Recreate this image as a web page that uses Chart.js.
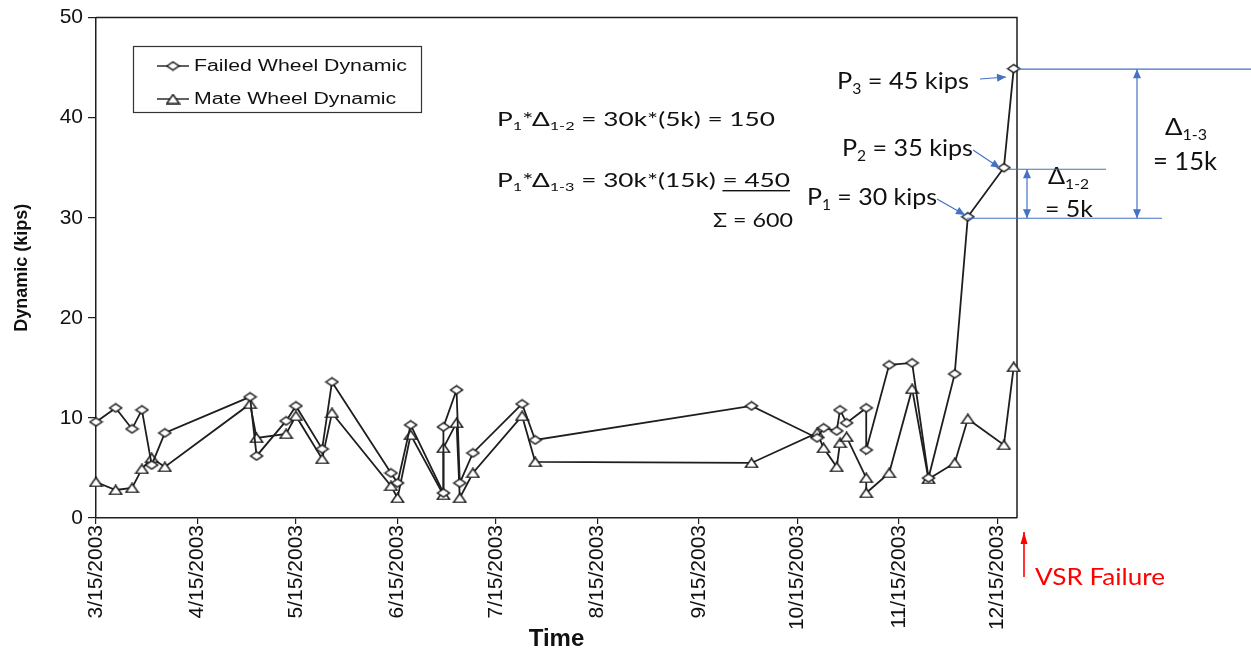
<!DOCTYPE html>
<html>
<head>
<meta charset="utf-8">
<script src="https://cdn.jsdelivr.net/npm/chart.js@4.4.1/dist/chart.umd.min.js"></script>
<style>
    html, body { margin: 0; padding: 0; background: #fff; }
    #wrap { width: 1251px; height: 655px; position: relative; }
</style>
</head>
<body>
<div id="wrap"><canvas id="dynamicChart"></canvas></div>
<script>
// Axis ticks (dates)
const tickLabels = ['3/15/2003', '4/15/2003', '5/15/2003', '6/15/2003', '7/15/2003',
    '8/15/2003', '9/15/2003', '10/15/2003', '11/15/2003', '12/15/2003'];
const axisStart = '3/15/2003';
const axisEnd = '12/21/2003';

const dates = ['3/15/2003', '3/21/2003', '3/26/2003', '3/29/2003', '4/1/2003', '4/5/2003',
    '5/1/2003', '5/3/2003', '5/12/2003', '5/15/2003', '5/23/2003', '5/26/2003',
    '6/13/2003', '6/15/2003', '6/19/2003', '6/29/2003', '6/29/2003', '7/3/2003',
    '7/4/2003', '7/8/2003', '7/23/2003', '7/27/2003', '10/1/2003', '10/21/2003',
    '10/23/2003', '10/27/2003', '10/28/2003', '10/30/2003', '11/5/2003', '11/5/2003',
    '11/12/2003', '11/19/2003', '11/24/2003', '12/2/2003', '12/6/2003', '12/17/2003',
    '12/20/2003'];

const failedWheel = [9.6, 11.0, 8.9, 10.8, 5.3, 8.5,
    12.1, 6.2, 9.7, 11.2, 6.9, 13.6,
    4.5, 3.5, 9.3, 2.5, 9.1, 12.8,
    3.5, 6.5, 11.4, 7.8, 11.2, 8.0,
    9.0, 8.7, 10.8, 9.5, 11.0, 6.8,
    15.3, 15.5, 4.0, 14.4, 30.1, 35.0,
    44.9];

const mateWheel = [3.6, 2.8, 3.0, 4.9, 6.0, 5.1,
    11.4, 8.0, 8.4, 10.2, 5.9, 10.5,
    3.2, 2.0, 8.3, 2.3, 7.0, 9.5,
    2.0, 4.5, 10.2, 5.6, 5.5, 8.5,
    7.0, 5.1, 7.5, 8.1, 4.0, 2.5,
    4.5, 12.9, 3.9, 5.5, 9.9, 7.3,
    15.1];

// Annotated load levels P1, P2, P3 (kips)
const pLevels = [30, 35, 45];

function dayOf(s) {
    const [m, d, y] = s.split('/').map(Number);
    const [m0, d0, y0] = axisStart.split('/').map(Number);
    return Math.round((Date.UTC(y, m - 1, d) - Date.UTC(y0, m0 - 1, d0)) / 86400000);
}
const tickDays = tickLabels.map(dayOf);

const LINE = '#1e1e1e';
const BLUE = '#4472C4';
const RED = '#ff0000';
const TXT = '#111';
Chart.defaults.font.family = "'Liberation Sans', Arial, sans-serif";
Chart.defaults.color = TXT;

// small open markers, a bit wider than tall like the source figure
function makeMarker(kind) {
    const c = document.createElement('canvas');
    c.width = 15; c.height = 11;
    const g = c.getContext('2d');
    g.beginPath();
    if (kind === 'diamond') {
        g.moveTo(1.5, 5.5); g.lineTo(7.5, 1.5); g.lineTo(13.5, 5.5); g.lineTo(7.5, 9.5);
    } else {
        g.moveTo(7.5, 1); g.lineTo(13.8, 10); g.lineTo(1.2, 10);
    }
    g.closePath();
    g.fillStyle = '#fff';
    g.fill();
    g.strokeStyle = '#1a1a1a';
    g.lineWidth = 1.5;
    g.stroke();
    return c;
}
const diamond = makeMarker('diamond');
const triangle = makeMarker('triangle');

// text with subscripts / underline, optionally squeezed into a given width
function richText(ctx, parts, x, y, size, width) {
    const sub = size * 0.62;
    const pieces = parts.map(p => typeof p === 'string' ? { t: p } : p);
    let total = 0;
    pieces.forEach(p => {
        ctx.font = (p.sub ? sub : size) + 'px Lato';
        p.text = p.sub || p.u || p.t;
        p.w = ctx.measureText(p.text).width;
        total += p.w;
    });
    const sx = width ? width / total : 1;
    ctx.save();
    ctx.translate(x, y);
    ctx.scale(sx, 1);
    ctx.textBaseline = 'alphabetic';
    ctx.textAlign = 'left';
    let cx = 0;
    pieces.forEach(p => {
        ctx.font = (p.sub ? sub : size) + 'px Lato';
        ctx.fillText(p.text, cx, p.sub ? size * 0.2 : 0);
        if (p.u) ctx.fillRect(cx, 3, p.w, 1.4);
        cx += p.w;
    });
    ctx.restore();
}

function arrowHead(ctx, x, y, ang, len, half) {
    const c = Math.cos(ang), s = Math.sin(ang);
    ctx.beginPath();
    ctx.moveTo(x, y);
    ctx.lineTo(x - len * c + half * s, y - len * s - half * c);
    ctx.lineTo(x - len * c - half * s, y - len * s + half * c);
    ctx.closePath();
    ctx.fill();
}

function arrow(ctx, x1, y1, x2, y2, color, both, len, half, lw) {
    ctx.strokeStyle = color;
    ctx.fillStyle = color;
    ctx.lineWidth = lw || 1.2;
    ctx.beginPath();
    ctx.moveTo(x1, y1);
    ctx.lineTo(x2, y2);
    ctx.stroke();
    const ang = Math.atan2(y2 - y1, x2 - x1);
    arrowHead(ctx, x2, y2, ang, len || 9, half || 4);
    if (both) arrowHead(ctx, x1, y1, ang + Math.PI, len || 9, half || 4);
}

// top + right edges of the plot frame
const frameBox = {
    id: 'frameBox',
    beforeDatasetsDraw(chart) {
        const { ctx, chartArea: a } = chart;
        ctx.save();
        ctx.strokeStyle = LINE;
        ctx.lineWidth = 1.5;
        ctx.beginPath();
        ctx.moveTo(a.left, a.top);
        ctx.lineTo(a.right, a.top);
        ctx.lineTo(a.right, a.bottom);
        ctx.stroke();
        ctx.restore();
    }
};

// boxed legend inside the plot, upper left
const boxLegend = {
    id: 'boxLegend',
    afterDraw(chart) {
        const { ctx } = chart;
        ctx.save();
        ctx.strokeStyle = '#333';
        ctx.lineWidth = 1.2;
        ctx.strokeRect(133.5, 46.5, 288, 66);
        chart.data.datasets.forEach((ds, i) => {
            const y = 66 + i * 33;
            ctx.strokeStyle = ds.borderColor;
            ctx.lineWidth = 1.4;
            ctx.beginPath();
            ctx.moveTo(157, y);
            ctx.lineTo(189, y);
            ctx.stroke();
            const m = ds.pointStyle;
            ctx.drawImage(m, 173 - m.width / 2, y - m.height / 2);
            ctx.save();
            ctx.translate(194, y);
            ctx.scale(1.33, 1);
            ctx.font = "16px 'Liberation Sans', Arial, sans-serif";
            ctx.fillStyle = TXT;
            ctx.textBaseline = 'middle';
            ctx.fillText(ds.label, 0, 1);
            ctx.restore();
        });
        ctx.restore();
    }
};

// equations, load labels and delta dimension lines
const notes = {
    id: 'notes',
    afterDraw(chart) {
        const { ctx, chartArea: a } = chart;
        const ys = chart.scales.y;
        const [y1, y2, y3] = pLevels.map(v => ys.getPixelForValue(v));
        ctx.save();
        ctx.fillStyle = TXT;
        richText(ctx, ['P', { sub: '1' }, '*Δ', { sub: '1-2' }, ' = 30k*(5k) = 150'], 497, 126, 19, 278);
        richText(ctx, ['P', { sub: '1' }, '*Δ', { sub: '1-3' }, ' = 30k*(15k) ', { u: '= 450' }], 497, 187, 19, 293);
        richText(ctx, ['Σ = 600'], 713, 227, 20, 80);

        richText(ctx, ['P', { sub: '3' }, ' = 45 kips'], 837, 89, 24, 132);
        richText(ctx, ['P', { sub: '2' }, ' = 35 kips'], 842, 156, 24, 131);
        richText(ctx, ['P', { sub: '1' }, ' = 30 kips'], 807, 205, 24, 130);

        richText(ctx, ['Δ', { sub: '1-2' }], 1048, 184, 23, 41);
        richText(ctx, ['= 5k'], 1045, 217, 23, 48);
        richText(ctx, ['Δ', { sub: '1-3' }], 1165, 135, 24, 42);
        richText(ctx, ['= 15k'], 1153, 170, 25, 64);

        // blue level lines
        ctx.strokeStyle = BLUE;
        ctx.lineWidth = 1.1;
        ctx.beginPath();
        ctx.moveTo(a.right, y3 + 1.5); ctx.lineTo(1251, y3 + 1.5);
        ctx.moveTo(1008, y2 + 1.5); ctx.lineTo(1106, y2 + 1.5);
        ctx.moveTo(967, y1 + 0.5); ctx.lineTo(1162, y1 + 0.5);
        ctx.stroke();

        // label pointers
        arrow(ctx, 980, 79, 1006, 77, BLUE, false, 9, 4);
        arrow(ctx, 973, 150, 1000, 168, BLUE, false, 9, 4);
        arrow(ctx, 937, 199, 965, 215, BLUE, false, 9, 4);

        // dimension arrows
        arrow(ctx, 1027, y2 + 1.5, 1027, y1 + 0.5, BLUE, true, 9, 4);
        arrow(ctx, 1137, y3 + 1.5, 1137, y1 + 0.5, BLUE, true, 9, 4);

        // failure marker
        arrow(ctx, 1024, 577, 1024, 532, RED, false, 12, 3.5, 1.6);
        ctx.fillStyle = RED;
        richText(ctx, ['VSR Failure'], 1035, 585, 24, 130);
        ctx.restore();
    }
};

const ctx = document.getElementById('dynamicChart').getContext('2d');
new Chart(ctx, {
    type: 'line',
    data: {
        datasets: [{
            label: 'Failed Wheel Dynamic',
            data: dates.map((d, i) => ({ x: dayOf(d), y: failedWheel[i] })),
            borderColor: LINE,
            borderWidth: 1.8,
            pointStyle: diamond,
            tension: 0,
            clip: false
        }, {
            label: 'Mate Wheel Dynamic',
            data: dates.map((d, i) => ({ x: dayOf(d), y: mateWheel[i] })),
            borderColor: LINE,
            borderWidth: 1.8,
            pointStyle: triangle,
            tension: 0,
            clip: false
        }]
    },
    options: {
        responsive: true,
        maintainAspectRatio: false,
        animation: false,
        devicePixelRatio: 1,
        layout: { padding: { top: 17, right: 234, left: 0, bottom: 0 } },
        plugins: {
            legend: { display: false },
            tooltip: { enabled: false }
        },
        scales: {
            x: {
                type: 'linear',
                min: 0,
                max: dayOf(axisEnd),
                afterBuildTicks: s => { s.ticks = tickDays.map(v => ({ value: v })); },
                afterFit: s => { s.height = 137; },
                grid: { drawOnChartArea: false, tickLength: 6, color: LINE, lineWidth: 1.2 },
                border: { color: LINE, width: 1.5 },
                ticks: {
                    autoSkip: false,
                    minRotation: 90,
                    maxRotation: 90,
                    padding: 1,
                    color: TXT,
                    font: { size: 21 },
                    callback: v => tickLabels[tickDays.indexOf(v)]
                },
                title: {
                    display: true,
                    text: 'Time',
                    color: TXT,
                    font: { size: 24, weight: 'bold' },
                    padding: { top: 0, bottom: 1 }
                }
            },
            y: {
                min: 0,
                max: 50,
                afterFit: s => { s.width = 96; },
                grid: { drawOnChartArea: false, tickLength: 8, color: LINE, lineWidth: 1.2 },
                border: { color: LINE, width: 1.5 },
                ticks: { stepSize: 10, padding: 5, color: TXT, font: { size: 21 } },
                title: {
                    display: true,
                    text: 'Dynamic (kips)',
                    color: TXT,
                    font: { size: 18, weight: 'bold' },
                    padding: { top: 11, bottom: 0 }
                }
            }
        }
    },
    plugins: [frameBox, boxLegend, notes]
});
</script>
</body>
</html>
